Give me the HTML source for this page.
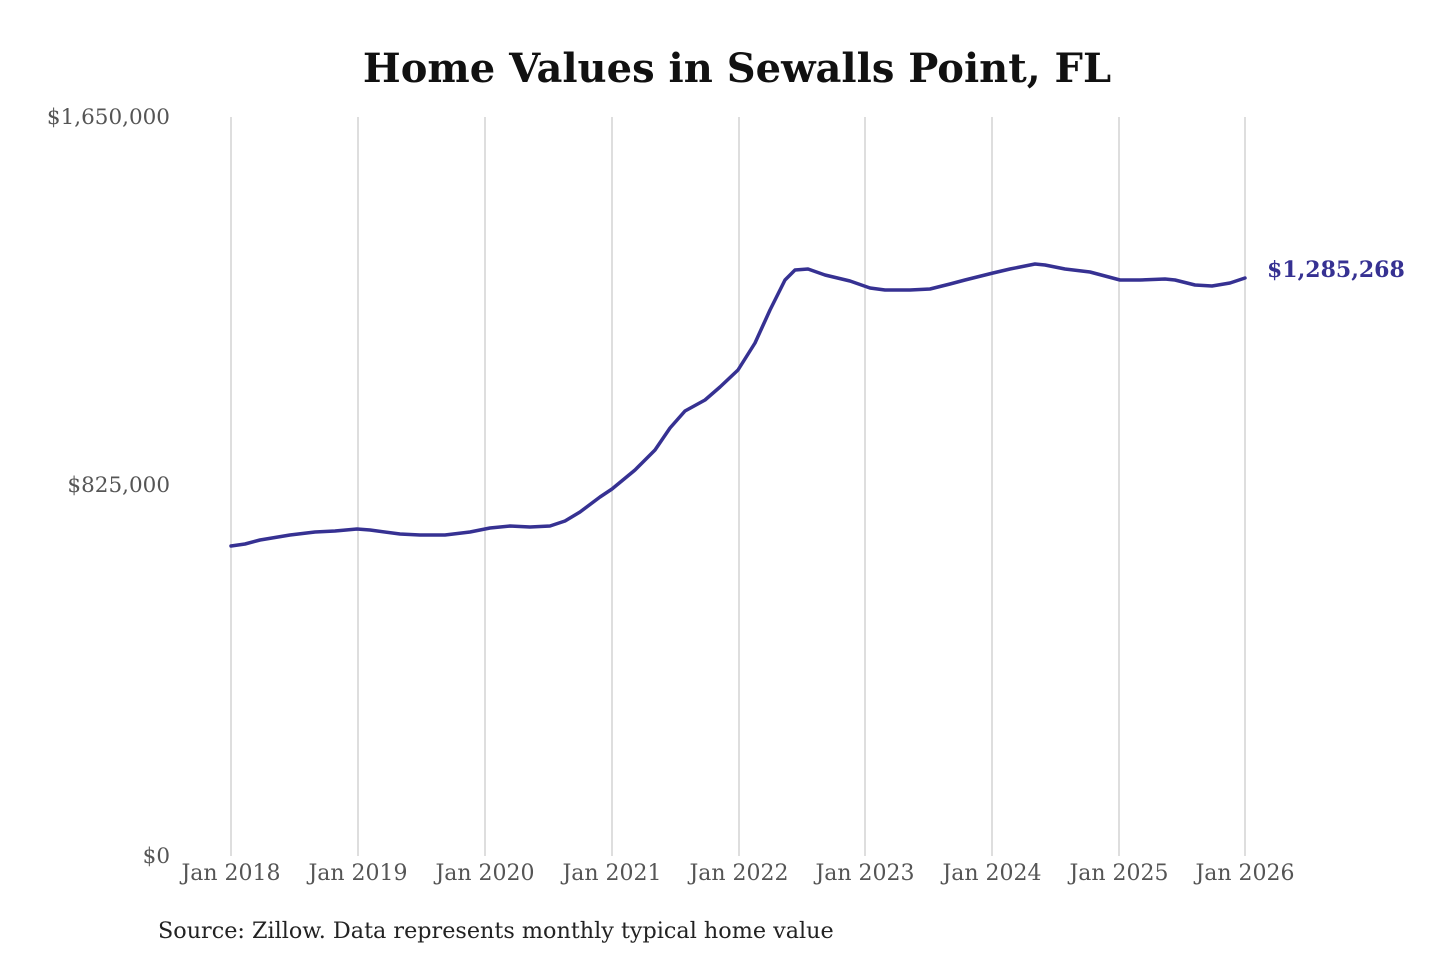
<!DOCTYPE html>
<html><head><meta charset="utf-8"><style>
body{margin:0;background:#fff;}
svg{display:block;}
</style></head><body>
<svg width="1440" height="960" xmlns="http://www.w3.org/2000/svg">
<rect width="1440" height="960" fill="#fff"/>
<text x="737" y="82" text-anchor="middle" font-family="DejaVu Serif, Liberation Serif, serif" font-weight="bold" font-size="40" fill="#111">Home Values in Sewalls Point, FL</text>
<g stroke="#c8c8c8" stroke-width="1.2">
<line x1="231" y1="117" x2="231" y2="856"/>
<line x1="358" y1="117" x2="358" y2="856"/>
<line x1="485" y1="117" x2="485" y2="856"/>
<line x1="612" y1="117" x2="612" y2="856"/>
<line x1="739" y1="117" x2="739" y2="856"/>
<line x1="865" y1="117" x2="865" y2="856"/>
<line x1="992" y1="117" x2="992" y2="856"/>
<line x1="1119" y1="117" x2="1119" y2="856"/>
<line x1="1245" y1="117" x2="1245" y2="856"/>
</g>
<g font-family="DejaVu Serif, Liberation Serif, serif" font-size="21.5" fill="#555">
<text x="170" y="124" text-anchor="end">$1,650,000</text>
<text x="170" y="492" text-anchor="end">$825,000</text>
<text x="170" y="863" text-anchor="end">$0</text>
<g text-anchor="middle" font-size="22">
<text x="231" y="880">Jan 2018</text>
<text x="358" y="880">Jan 2019</text>
<text x="485" y="880">Jan 2020</text>
<text x="612" y="880">Jan 2021</text>
<text x="739" y="880">Jan 2022</text>
<text x="865" y="880">Jan 2023</text>
<text x="992" y="880">Jan 2024</text>
<text x="1119" y="880">Jan 2025</text>
<text x="1245" y="880">Jan 2026</text>
</g>
</g>
<polyline fill="none" stroke="#363192" stroke-width="3.5" stroke-linejoin="round" stroke-linecap="round" points="231,546 245,544 260,540 290,535 315,532 335,531 357,529 370,530 400,534 420,535 445,535 470,532 490,528 510,526 530,527 550,526 565,521 580,512 600,497 612,489 635,470 655,450 670,428 685,411 705,400 720,387 738,370 755,343 770,310 785,280 795,270 808,269 825,275 850,281 870,288 885,290 910,290 930,289 950,284 965,280 993,273 1010,269 1035,264 1045,265 1065,269 1090,272 1105,276 1120,280 1140,280 1165,279 1175,280 1195,285 1212,286 1230,283 1245,278"/>
<text x="1267" y="277" font-family="DejaVu Serif, Liberation Serif, serif" font-weight="bold" font-size="22" fill="#363192">$1,285,268</text>
<text x="158" y="938" font-family="DejaVu Serif, Liberation Serif, serif" font-size="22.3" fill="#222">Source: Zillow. Data represents monthly typical home value</text>
</svg>
</body></html>
